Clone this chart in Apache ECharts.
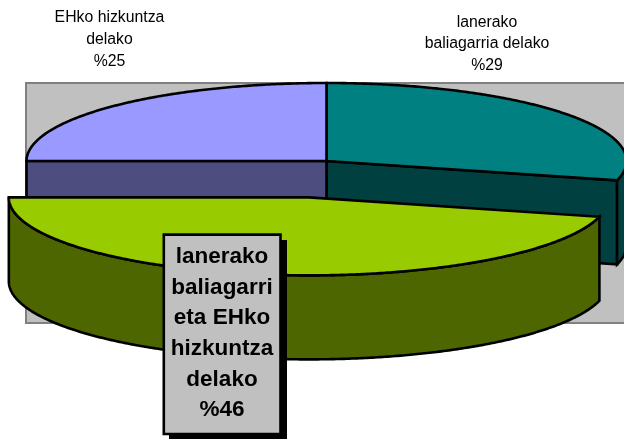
<!DOCTYPE html>
<html><head><meta charset="utf-8">
<style>html,body{margin:0;padding:0;background:#fff}#c{width:624px;height:439px}</style>
<script src="https://cdn.jsdelivr.net/npm/echarts@6/dist/echarts.min.js"></script>
</head><body><div id="c"></div>
<script>
const categories = ['lanerako baliagarria delako', 'lanerako baliagarri eta EHko hizkuntza delako', 'EHko hizkuntza delako'];
const values = [29, 46, 25];
const labelLines = [
  ['lanerako', 'baliagarria delako', '%29'],
  ['lanerako', 'baliagarri', 'eta EHko', 'hizkuntza', 'delako', '%46'],
  ['EHko hizkuntza', 'delako', '%25']
];
const topColors = ['#008080', '#99CC00', '#9999FF'];
const sideColors = ['#004040', '#4D6600', '#4D4D80'];
const explode = [0, 0.47, 0];

const CX = 326.5, CY = 161, RX = 300, RY = 78, DEPTH = 84;
const total = values.reduce((a, b) => a + b, 0);
const LINE = { stroke: '#000', lineWidth: 2.6, lineJoin: 'miter', miterLimit: 3 };

function pt(cx, cy, deg) {
  const r = deg * Math.PI / 180;
  return [cx + RX * Math.sin(r), cy - RY * Math.cos(r)];
}
function arc(cx, cy, a, b) {
  const n = Math.max(2, Math.ceil(Math.abs(b - a) * 2)), out = [];
  for (let i = 0; i <= n; i++) out.push(pt(cx, cy, a + (b - a) * i / n));
  return out;
}
function poly(points, fill, z2) {
  return { type: 'polygon', shape: { points }, style: Object.assign({ fill }, LINE), z2 };
}
function renderItem(params, api) {
  const i = api.value(0), v = api.value(1);
  let before = 0;
  for (let k = 0; k < i; k++) before += values[k];
  const a0 = before / total * 360, a1 = (before + v) / total * 360;
  const mid = (a0 + a1) / 2 * Math.PI / 180, e = explode[i];
  const cx = CX + RX * e * Math.sin(mid), cy = CY - RY * e * Math.cos(mid);
  const base = e > 0 ? 10 : 0;
  const children = [];
  const face = deg => {
    const p = pt(cx, cy, deg);
    return poly([[cx, cy], p, [p[0], p[1] + DEPTH], [cx, cy + DEPTH]], sideColors[i], base);
  };
  if (Math.sin(a0 * Math.PI / 180) < -1e-6) children.push(face(a0));
  if (Math.sin(a1 * Math.PI / 180) > 1e-6) children.push(face(a1));
  const f0 = Math.max(a0, 90), f1 = Math.min(a1, 270);
  if (f1 > f0) {
    const rim = arc(cx, cy, f0, f1);
    const low = rim.slice().reverse().map(p => [p[0], p[1] + DEPTH]);
    children.push(poly(rim.concat(low), sideColors[i], base + 1));
  }
  children.push(poly([[cx, cy]].concat(arc(cx, cy, a0, a1)), topColors[i], base + 2));
  return { type: 'group', children };
}

const chart = echarts.init(document.getElementById('c'), null, { renderer: 'canvas' });
const smallFont = { fontFamily: 'Liberation Sans, Arial, sans-serif', fontSize: 15.8, lineHeight: 21.7, fill: '#000', align: 'center', verticalAlign: 'middle' };
chart.setOption({
  animation: false,
  backgroundColor: '#fff',
  xAxis: { show: false }, yAxis: { show: false },
  series: [{
    type: 'custom',
    coordinateSystem: 'none',
    silent: true,
    z: 5,
    clip: false,
    data: categories.map((c, i) => ({ name: c, value: [i, values[i]] })),
    encode: { value: 1 },
    renderItem
  }],
  graphic: [
    { type: 'rect', z: 1, silent: true, shape: { x: 26, y: 83, width: 620, height: 240 }, style: { fill: '#C0C0C0', stroke: '#808080', lineWidth: 2 } },
    { type: 'text', z: 20, silent: true, x: 109.5, y: 39.5, style: Object.assign({ text: labelLines[2].join('\n') }, smallFont) },
    { type: 'text', z: 20, silent: true, x: 487, y: 44, style: Object.assign({ text: labelLines[0].join('\n') }, smallFont) },
    { type: 'rect', z: 20, silent: true, shape: { x: 169, y: 240, width: 118, height: 199 }, style: { fill: '#000' } },
    { type: 'rect', z: 21, silent: true, shape: { x: 163.8, y: 234.6, width: 116.7, height: 199.4 }, style: { fill: '#C0C0C0', stroke: '#000', lineWidth: 2.6 } },
    { type: 'text', z: 22, silent: true, x: 222, y: 333.5, style: { text: labelLines[1].join('\n'), fontFamily: 'Liberation Sans, Arial, sans-serif', fontWeight: 'bold', fontSize: 22.5, lineHeight: 30.7, fill: '#000', align: 'center', verticalAlign: 'middle' } }
  ]
});
</script></body></html>
